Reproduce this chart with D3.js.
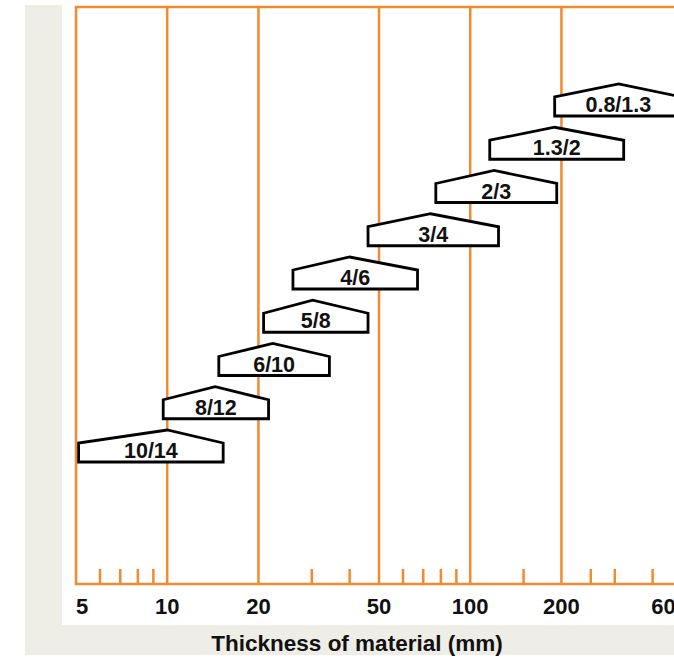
<!DOCTYPE html>
<html>
<head>
<meta charset="utf-8">
<script src="https://cdn.jsdelivr.net/npm/d3@7"></script>
<style>
  body { margin: 0; background: #fff; }
  svg { display: block; font-family: "Liberation Sans", Arial, sans-serif; }
</style>
</head>
<body>
<div id="chart"></div>
<script>
// Sizes (label), lower / best / upper thickness in mm
const labels = ["10/14", "8/12", "6/10", "5/8", "4/6", "3/4", "2/3", "1.3/2", "0.8/1.3"];
const minThick = [5.1, 9.7, 14.8, 20.8, 26, 46, 77, 116, 190];
const bestThick = [10, 14.4, 22.3, 30.2, 40, 74, 120, 190, 309];
const maxThick = [15.3, 21.6, 34.3, 46, 67, 124, 193, 321, 500];

const majorTicks = [5, 10, 20, 50, 100, 200, 500];
const tickLabels = ["5", "10", "20", "50", "100", "200", "600"];
const minorTicks = [6, 7, 8, 9, 30, 40, 60, 70, 80, 90, 150, 250, 300, 400];

const width = 674;
const height = 658;
const marginLeft = 76;
const marginTop = 7;
const axisY = 584;
const orange = "#f28a30";

const x = d3.scaleLog([5, 500], [marginLeft, marginLeft + 606]);
const y = d3.scalePoint(labels, [462, 116]);

const svg = d3.create("svg").attr("width", width).attr("height", height);

// background panels
svg.append("rect").attr("x", 25).attr("y", 5).attr("width", width - 25).attr("height", 650).attr("fill", "#eeede6");
svg.append("rect").attr("x", 62).attr("y", 0).attr("width", width - 62).attr("height", 625).attr("fill", "#fff");

// frame
svg.append("rect")
  .attr("x", x(5)).attr("y", marginTop)
  .attr("width", x(500) - x(5)).attr("height", axisY - marginTop)
  .attr("fill", "none").attr("stroke", orange).attr("stroke-width", 2.5);

// major grid lines
svg.append("g")
  .selectAll("line")
  .data(majorTicks.slice(1, -1))
  .join("line")
  .attr("x1", (d) => x(d)).attr("x2", (d) => x(d))
  .attr("y1", marginTop).attr("y2", axisY)
  .attr("stroke", orange).attr("stroke-width", 2.5);

// minor ticks on the bottom line
svg.append("g")
  .selectAll("line")
  .data(minorTicks)
  .join("line")
  .attr("x1", (d) => x(d)).attr("x2", (d) => x(d))
  .attr("y1", axisY - 15).attr("y2", axisY)
  .attr("stroke", orange).attr("stroke-width", 2.5);

// tick labels
svg.append("g")
  .selectAll("text")
  .data(majorTicks)
  .join("text")
  .attr("x", (d) => x(d))
  .attr("dx", (d, i) => (i === majorTicks.length - 1 ? 6 : 0))
  .attr("y", axisY + 30)
  .attr("text-anchor", (d, i) => (i === 0 ? "start" : i === majorTicks.length - 1 ? "end" : "middle"))
  .attr("font-size", 22)
  .attr("font-weight", "bold")
  .attr("fill", "#111")
  .text((d, i) => tickLabels[i]);

svg.append("text")
  .attr("x", 357).attr("y", 651)
  .attr("text-anchor", "middle")
  .attr("font-size", 22.5)
  .attr("font-weight", "bold")
  .attr("fill", "#111")
  .text("Thickness of material (mm)");

// pentagon markers
const boxH = 19;
const rise = 13;
const shapes = labels.map((label, i) => ({
  label,
  x0: x(minThick[i]),
  xp: x(bestThick[i]),
  x1: x(maxThick[i]),
  yb: y(label),
}));

const g = svg.append("g");
g.selectAll("path")
  .data(shapes)
  .join("path")
  .attr("d", (d) => {
    const ys = d.yb - boxH;
    return `M${d.x0},${d.yb}L${d.x0},${ys}L${d.xp},${ys - rise}L${d.x1},${ys}L${d.x1},${d.yb}Z`;
  })
  .attr("fill", "#fff")
  .attr("stroke", "#000")
  .attr("stroke-width", 2.8)
  .attr("stroke-linejoin", "miter");

g.selectAll("text")
  .data(shapes)
  .join("text")
  .attr("x", (d) => (d.x0 + d.x1) / 2)
  .attr("y", (d) => d.yb - 4)
  .attr("text-anchor", "middle")
  .attr("font-size", 21.5)
  .attr("font-weight", "bold")
  .attr("fill", "#111")
  .text((d) => d.label);

d3.select("#chart").node().appendChild(svg.node());
</script>
</body>
</html>
